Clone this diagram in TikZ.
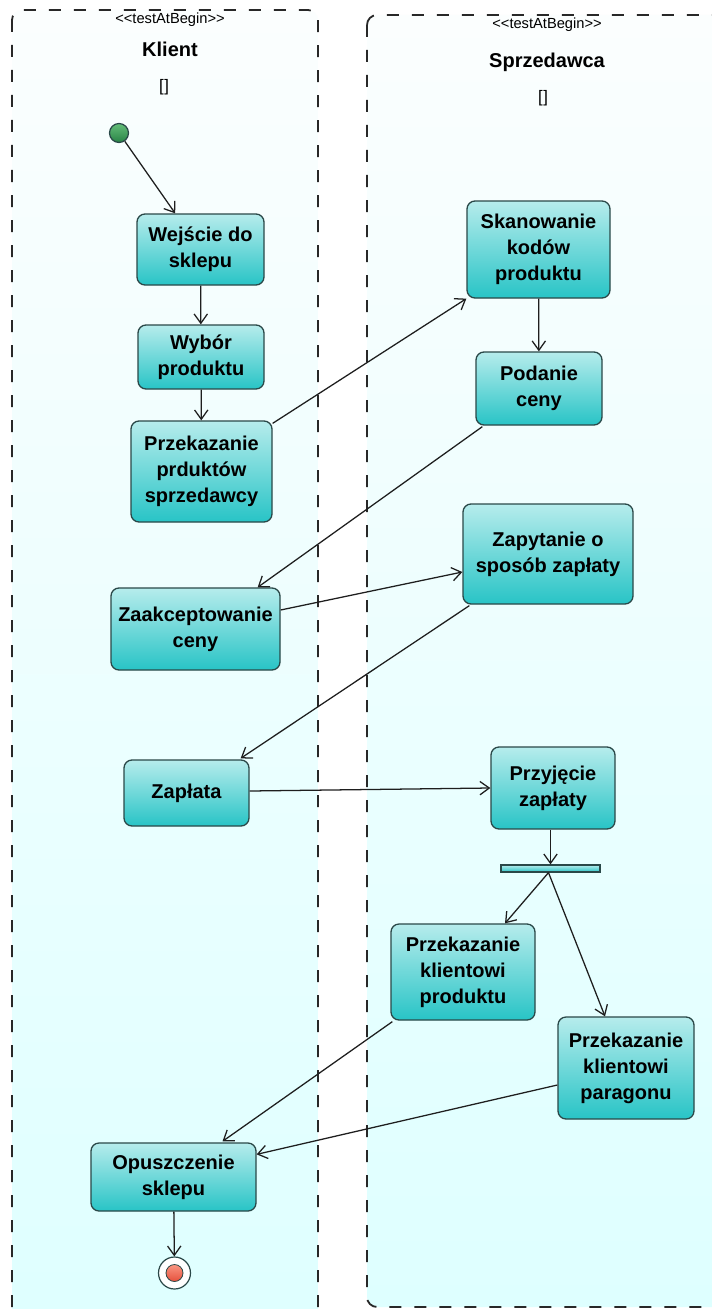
\documentclass[tikz,border=0pt]{standalone}
\usepackage{fontspec}
\setmainfont{Liberation Sans}
\usetikzlibrary{arrows.meta,calc}
\newlength\pxu
\setlength\pxu{0.75pt}
\definecolor{boxtop}{RGB}{182,236,236}
\definecolor{boxbot}{RGB}{40,196,198}
\definecolor{boxline}{RGB}{42,72,72}
\definecolor{lanetop}{RGB}{251,254,254}
\definecolor{lanebot}{RGB}{222,255,255}
\definecolor{laneline}{RGB}{40,40,40}
\definecolor{edgecol}{RGB}{30,30,30}
\definecolor{starttop}{RGB}{100,190,120}
\definecolor{startbot}{RGB}{40,130,70}
\definecolor{endtop}{RGB}{250,150,130}
\definecolor{endbot}{RGB}{230,80,60}
\newcommand\stereotype[1]{<\kern0pt<#1>\kern0pt>}
\tikzset{
  act/.style={draw=boxline, line width=1.3\pxu, rounded corners=8\pxu,
    top color=boxtop, bottom color=boxbot, align=center, inner sep=0pt,
    font=\bfseries\fontsize{15}{19.5}\selectfont},
  arr/.style={draw=edgecol, line width=0.95pt,
    -{Straight Barb[length=7pt,width=10pt,line width=0.95pt]}},
  lane/.style={draw=laneline, line width=1.35pt, dash pattern=on 9pt off 9.75pt,
    rounded corners=7.5pt},
  lanefill/.style={top color=lanetop, bottom color=lanebot, rounded corners=7.5pt},
  stereo/.style={font=\fontsize{11}{13}\selectfont, inner sep=0pt},
  lanetitle/.style={font=\bfseries\fontsize{15}{18}\selectfont, inner sep=0pt},
  guard/.style={font=\fontsize{12.5}{15}\selectfont, inner sep=0pt},
}
\begin{document}
\begin{tikzpicture}[x=0.75pt,y=-0.75pt]
\useasboundingbox (0,0) rectangle (712,1309);
\clip (0,0) rectangle (712,1309);
\fill[white] (0,0) rectangle (712,1309);

% swimlanes
\shade[lanefill] (12,10) rectangle (318,1340);
\draw[lane] (12,10) rectangle (318,1340);
\shade[lanefill] (367,15) rectangle (740,1307);
\draw[lane] (367,15) rectangle (740,1307);

% lane headers
\node[stereo] (st1) at (170,20) {\stereotype{testAtBegin}};
\node[lanetitle] (klient) at (170,49) {Klient};
\node[guard] (g1) at (164,87) {[\kern0.5pt]};
\node[stereo] (st2) at (547,25) {\stereotype{testAtBegin}};
\node[lanetitle] (sprz) at (547,62) {Sprzedawca};
\node[guard] (g2) at (543,98) {[\kern0.5pt]};

% initial node
\node[circle, draw=boxline, line width=0.9pt, top color=starttop, bottom color=startbot,
      minimum size=14.25pt, inner sep=0pt] (start) at (119,133) {};

% actions: Klient
\node[act, minimum width=127\pxu, minimum height=71\pxu] (wej) at (200.5,249.5) {Wejście do\\sklepu};
\node[act, minimum width=126\pxu, minimum height=64\pxu] (wyb) at (201,357) {Wybór\\produktu};
\node[act, minimum width=141\pxu, minimum height=101\pxu] (prz) at (201.5,471.5) {Przekazanie\\prduktów\\sprzedawcy};
\node[act, minimum width=169\pxu, minimum height=82\pxu] (zaa) at (195.5,629) {Zaakceptowanie\\ceny};
\node[act, minimum width=125\pxu, minimum height=66\pxu] (zpl) at (186.5,793) {Zapłata};
\node[act, minimum width=165\pxu, minimum height=68\pxu] (opu) at (173.5,1177) {Opuszczenie\\sklepu};

% actions: Sprzedawca
\node[act, minimum width=143\pxu, minimum height=97\pxu] (ska) at (538.5,249.5) {Skanowanie\\kodów\\produktu};
\node[act, minimum width=126\pxu, minimum height=73\pxu] (pod) at (539,388.5) {Podanie\\ceny};
\node[act, minimum width=170\pxu, minimum height=100\pxu] (zap) at (548,554) {Zapytanie o\\sposób zapłaty};
\node[act, minimum width=124\pxu, minimum height=82\pxu] (prj) at (553,788) {Przyjęcie\\zapłaty};
\node[draw=boxline, line width=0.9pt, top color=boxtop, bottom color=boxbot,
      minimum width=99\pxu, minimum height=7\pxu, inner sep=0pt] (fork) at (550.5,868.5) {};
\node[act, minimum width=144\pxu, minimum height=96\pxu] (kpr) at (463,972) {Przekazanie\\klientowi\\produktu};
\node[act, minimum width=136\pxu, minimum height=102\pxu] (kpa) at (626,1068) {Przekazanie\\klientowi\\paragonu};

% final node
\node[circle, draw=boxline, line width=0.9pt, fill=white, minimum size=24pt, inner sep=0pt] (endn) at (174.5,1273) {};
\node[circle, draw=boxline, line width=0.6pt, top color=endtop, bottom color=endbot,
      minimum size=12.75pt, inner sep=0pt] (endin) at (endn) {};

% control flows
\draw[arr] (start) -- (wej);
\draw[arr] (wej) -- (wyb);
\draw[arr] (wyb) -- (prz);
\draw[arr] ($(prz.north east)+(0,3)$) -- (ska.south west);
\draw[arr] (ska) -- (pod);
\draw[arr] ($(pod.south west)+(7,1)$) -- ($(zaa.north east)+(-23,0)$);
\draw[arr] ($(zaa.east)+(0,-19)$) -- ($(zap.west)+(0,18)$);
\draw[arr] ($(zap.south west)+(7,1)$) -- ($(zpl.north east)+(-9,-1)$);
\draw[arr] ($(zpl.east)+(0,-2)$) -- (prj.west);
\draw[arr] (fork.north |- prj.south) -- (fork.north);
\draw[arr] ($(fork.south)+(-2,0)$) -- ($(kpr.north)+(42,0)$);
\draw[arr] ($(fork.south)+(-2,0)$) -- ($(kpa.north)+(-21,0)$);
\draw[arr] ($(kpr.south west)+(2,1)$) -- ($(opu.north)+(49,-1)$);
\draw[arr] ($(kpa.west)+(0,17)$) -- ($(opu.north east)+(0,12)$);
\draw[arr] (opu) -- (endn);
\end{tikzpicture}
\end{document}
